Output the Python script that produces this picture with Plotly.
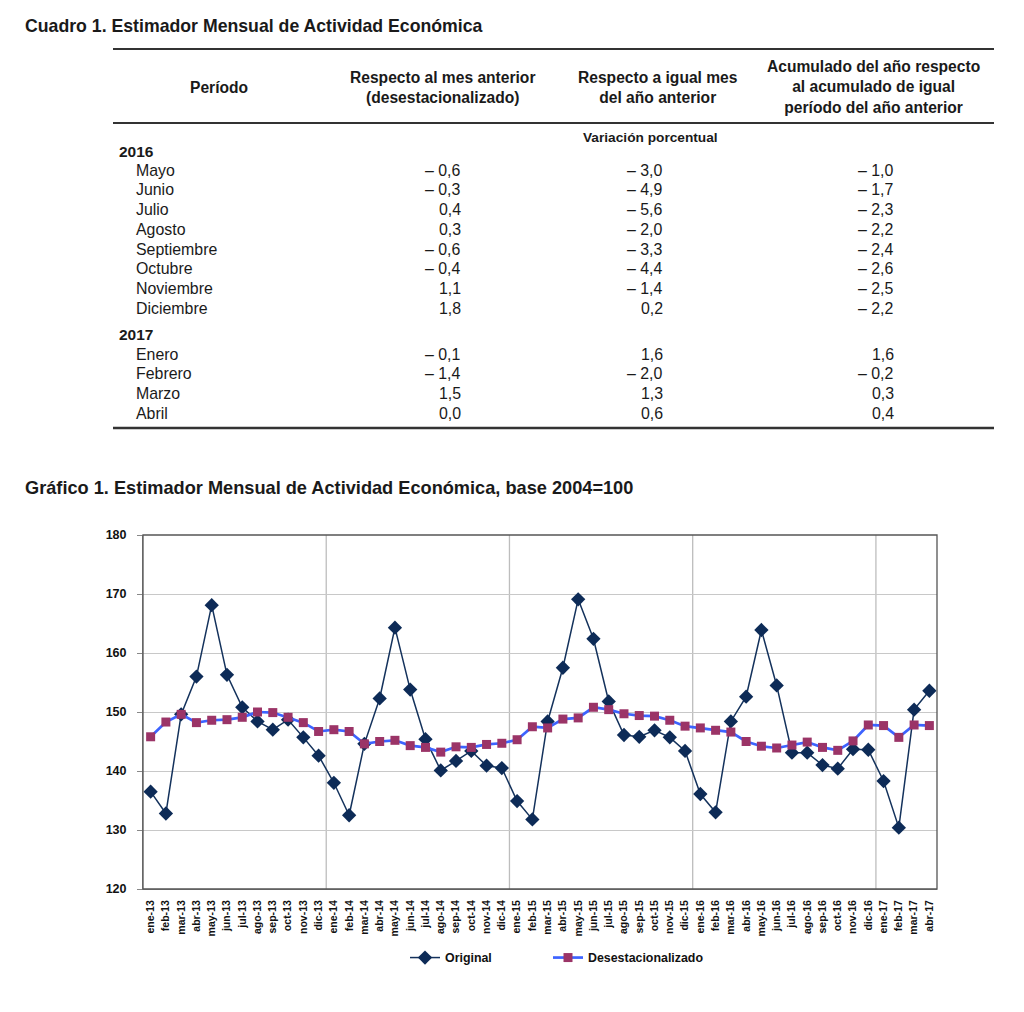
import plotly.graph_objects as go

W, H = 1024, 1012

# ---------------- Data ----------------
months = ["ene", "feb", "mar", "abr", "may", "jun", "jul", "ago", "sep", "oct", "nov", "dic"]
years = ["13", "14", "15", "16", "17"]
labels = [f"{m}-{y}" for y in years for m in months][:52]

original = [136.5, 132.8, 149.6, 156.0, 168.1, 156.3, 150.8, 148.4, 147.0, 148.7, 145.7, 142.6,
            138.0, 132.5, 144.6, 152.3, 164.3, 153.8, 145.4, 140.1, 141.7, 143.4, 140.9, 140.5,
            134.9, 131.8, 148.4, 157.5, 169.1, 162.4, 151.8, 146.1, 145.8, 146.9, 145.7, 143.4,
            136.1, 133.0, 148.4, 152.6, 163.9, 154.5, 143.1, 143.1, 141.0, 140.4, 143.7, 143.6,
            138.3, 130.4, 150.4, 153.6]

desest = [145.8, 148.3, 149.6, 148.2, 148.6, 148.7, 149.1, 150.0, 149.9, 149.1, 148.2, 146.7,
          147.0, 146.7, 144.6, 145.0, 145.2, 144.3, 144.0, 143.2, 144.1, 144.0, 144.5, 144.7,
          145.3, 147.5, 147.3, 148.8, 149.0, 150.8, 150.4, 149.7, 149.4, 149.3, 148.6, 147.6,
          147.3, 146.9, 146.6, 145.0, 144.2, 143.9, 144.4, 144.9, 144.0, 143.5, 145.1, 147.8,
          147.7, 145.7, 147.8, 147.7]

y_ticks = [120, 130, 140, 150, 160, 170, 180]

table_headers = ["Período",
                 "Respecto al mes anterior<br>(desestacionalizado)",
                 "Respecto a igual mes<br>del año anterior",
                 "Acumulado del año respecto<br>al acumulado de igual<br>período del año anterior"]
table_years = ["2016", "2017"]
periods_2016 = ["Mayo", "Junio", "Julio", "Agosto", "Septiembre", "Octubre", "Noviembre", "Diciembre"]
periods_2017 = ["Enero", "Febrero", "Marzo", "Abril"]
mensual = [-0.6, -0.3, 0.4, 0.3, -0.6, -0.4, 1.1, 1.8, -0.1, -1.4, 1.5, 0.0]
interanual = [-3.0, -4.9, -5.6, -2.0, -3.3, -4.4, -1.4, 0.2, 1.6, -2.0, 1.3, 0.6]
acumulado = [-1.0, -1.7, -2.3, -2.2, -2.4, -2.6, -2.5, -2.2, 1.6, -0.2, 0.3, 0.4]

# ---------------- Helpers ----------------
def px(x, y):
    return x / W, 1 - y / H

def fmt(v):
    s = f"{abs(v):.1f}".replace(".", ",")
    return ("– " + s) if v < 0 else s

SANS = "Liberation Sans, Arial, Helvetica, sans-serif"

annotations = []
shapes = []

def text(x, y, t, size=14, bold=False, xanchor="left", family=SANS, color="#1a1a1a"):
    xx, yy = px(x, y)
    annotations.append(dict(x=xx, y=yy, xref="paper", yref="paper", text=(f"<b>{t}</b>" if bold else t),
                            showarrow=False, xanchor=xanchor, yanchor="middle", align="center",
                            font=dict(size=size, family=family, color=color)))

def hline(x0, x1, y, w=2, color="#333333"):
    _, yy = px(0, y)
    shapes.append(dict(type="line", xref="paper", yref="paper", x0=x0 / W, x1=x1 / W, y0=yy, y1=yy,
                       line=dict(color=color, width=w)))

# ---------------- Table ----------------
text(23, 26, "Cuadro 1. Estimador Mensual de Actividad Económica", size=17.7, bold=True)
hline(113, 994, 49, 2)
hdr_x = [219, 442, 658, 873]
for hx, ht in zip(hdr_x, table_headers):
    text(hx, 87, ht, size=15.6, bold=True, xanchor="center")
hline(113, 994, 123, 2)
text(650, 137, "Variación porcentual", size=13.7, bold=True, xanchor="center")

row_y = []
text(117, 151, table_years[0], size=15.5, bold=True)
for i, p in enumerate(periods_2016):
    row_y.append(170 + i * 19.75)
text(117, 334, table_years[1], size=15.5, bold=True)
for i, p in enumerate(periods_2017):
    row_y.append(354 + i * 19.75)
all_periods = periods_2016 + periods_2017
for ry, p, a, b, c in zip(row_y, all_periods, mensual, interanual, acumulado):
    text(134, ry, p, size=15.9)
    text(463, ry, fmt(a), size=15.9, xanchor="right")
    text(665, ry, fmt(b), size=15.9, xanchor="right")
    text(896, ry, fmt(c), size=15.9, xanchor="right")
hline(113, 994, 428, 2.5)

# ---------------- Chart ----------------
text(23, 488, "Gráfico 1. Estimador Mensual de Actividad Económica, base 2004=100", size=18.2, bold=True)

xs = list(range(len(labels)))
fig = go.Figure()
fig.add_trace(go.Scatter(x=xs, y=original, name="Original", mode="lines+markers",
                         line=dict(color="#14325c", width=1.5),
                         marker=dict(symbol="diamond", size=11, color="#0d2b57"),
                         legend="legend"))
fig.add_trace(go.Scatter(x=xs, y=desest, name="Desestacionalizado", mode="lines+markers",
                         line=dict(color="#3d63ff", width=2.7),
                         marker=dict(symbol="square", size=9, color="#9b3467"),
                         legend="legend2"))

# year boundary gridlines
for k in range(12, len(labels), 12):
    shapes.append(dict(type="line", xref="x", yref="paper", x0=k - 0.5, x1=k - 0.5,
                       y0=1 - 889 / H, y1=1 - 535 / H, line=dict(color="#bdbdbd", width=1.3), layer="below"))
# plot border
shapes.append(dict(type="rect", xref="paper", yref="paper", x0=143 / W, x1=937 / W,
                   y0=1 - 889 / H, y1=1 - 535 / H, line=dict(color="#555555", width=1.3)))

leg_common = dict(orientation="h", xanchor="left", y=1 - 958 / H, yanchor="middle",
                  font=dict(size=12.4, family=SANS, color="#111111", weight="bold"), itemwidth=30,
                  bgcolor="rgba(0,0,0,0)")

fig.update_layout(
    width=W, height=H, margin=dict(l=0, r=0, t=0, b=0, autoexpand=False),
    paper_bgcolor="white", plot_bgcolor="white",
    showlegend=True,
    legend=dict(x=405 / W, **leg_common),
    legend2=dict(x=548 / W, **leg_common),
    xaxis=dict(domain=[143 / W, 937 / W], range=[-0.5, len(labels) - 0.5],
               tickmode="array", tickvals=xs, ticktext=[f"<b>{l}</b>" for l in labels],
               tickangle=-90, tickfont=dict(size=10.5, family=SANS, color="#111111"),
               showgrid=False, zeroline=False, showline=True, linecolor="#888888",
               ticks="", ticklabelstandoff=6, fixedrange=True, automargin=False),
    yaxis=dict(domain=[1 - 889 / H, 1 - 535 / H], range=[120, 180], tickmode="array",
               tickvals=y_ticks, ticktext=[f"<b>{v}</b>" for v in y_ticks],
               tickfont=dict(size=12.5, family=SANS, color="#111111"),
               showgrid=True, gridcolor="#c8c8c8", gridwidth=1, zeroline=False,
               showline=True, linecolor="#888888", ticks="outside", ticklen=5, tickcolor="#888888",
               ticklabelstandoff=8, fixedrange=True, automargin=False),
    annotations=annotations,
    shapes=shapes,
)

post = ("var d=document.getElementById('{plot_id}');"
        "d.style.position='absolute';d.style.top='0px';d.style.left='0px';"
        "document.documentElement.style.margin='0';document.documentElement.style.overflow='hidden';"
        "document.documentElement.style.height='1012px';"
        "document.body.style.margin='0';document.body.style.overflow='hidden';"
        "document.body.style.height='1012px';")
fig.write_html("out.html", config={"displayModeBar": False}, post_script=post)
